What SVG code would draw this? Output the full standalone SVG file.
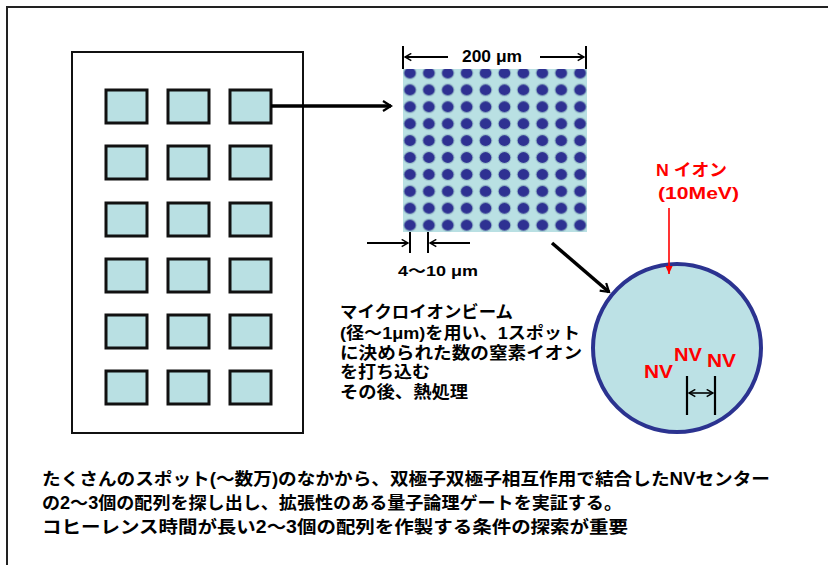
<svg xmlns="http://www.w3.org/2000/svg" width="828" height="565" viewBox="0 0 828 565">
<style>
.t{font-family:"Liberation Sans","Noto Sans CJK JP",sans-serif;font-weight:bold;fill:#000}
.r{fill:#ff0000}
.sq{fill:#b9e0e3;stroke:#111;stroke-width:3}
.ln{stroke:#000;fill:none}
</style>
<defs>
<marker id="chev" viewBox="0 0 12 12" refX="10" refY="6" markerWidth="12" markerHeight="12" markerUnits="userSpaceOnUse" orient="auto">
<path d="M2,1 L10,6 L2,11" fill="none" stroke="#000" stroke-width="2.2"/>
</marker>
<marker id="chevs" viewBox="0 0 10 10" refX="9" refY="5" markerWidth="9" markerHeight="9" markerUnits="userSpaceOnUse" orient="auto-start-reverse">
<path d="M2,1 L9,5 L2,9" fill="none" stroke="#000" stroke-width="1.6"/>
</marker>
<marker id="redh" viewBox="0 0 10 10" refX="9" refY="5" markerWidth="9" markerHeight="9" markerUnits="userSpaceOnUse" orient="auto">
<path d="M0,1 L9,5 L0,9 Z" fill="#ff0000"/>
</marker>
<pattern id="dots" patternUnits="userSpaceOnUse" x="400.55" y="64.55" width="18.9" height="16.9">
<circle cx="9.45" cy="8.45" r="6.8" fill="#9cc3cc"/>
<ellipse cx="9.45" cy="8.45" rx="5.8" ry="5.4" fill="#2e3192"/>
</pattern>
</defs>

<path d="M7,565 V7 H828" fill="none" stroke="#222" stroke-width="2"/>

<g id="chip">
<rect x="72" y="52" width="231" height="381" fill="#fff" stroke="#111" stroke-width="2"/>
<rect class="sq" x="106" y="90" width="41" height="33"/>
<rect class="sq" x="168" y="90" width="41" height="33"/>
<rect class="sq" x="230" y="90" width="41" height="33"/>
<rect class="sq" x="106" y="146" width="41" height="33"/>
<rect class="sq" x="168" y="146" width="41" height="33"/>
<rect class="sq" x="230" y="146" width="41" height="33"/>
<rect class="sq" x="106" y="203" width="41" height="33"/>
<rect class="sq" x="168" y="203" width="41" height="33"/>
<rect class="sq" x="230" y="203" width="41" height="33"/>
<rect class="sq" x="106" y="259" width="41" height="33"/>
<rect class="sq" x="168" y="259" width="41" height="33"/>
<rect class="sq" x="230" y="259" width="41" height="33"/>
<rect class="sq" x="106" y="315" width="41" height="33"/>
<rect class="sq" x="168" y="315" width="41" height="33"/>
<rect class="sq" x="230" y="315" width="41" height="33"/>
<rect class="sq" x="106" y="371" width="41" height="33"/>
<rect class="sq" x="168" y="371" width="41" height="33"/>
<rect class="sq" x="230" y="371" width="41" height="33"/>
</g>

<g id="spot-array">
<rect x="403" y="69" width="184" height="163" fill="#b9e0e3"/>
<rect x="403" y="69" width="184" height="163" fill="url(#dots)"/>
<line class="ln" x1="403" y1="46" x2="403" y2="69" stroke-width="2"/>
<line class="ln" x1="586" y1="46" x2="586" y2="69" stroke-width="2"/>
<line class="ln" x1="448" y1="57" x2="405" y2="57" stroke-width="2" marker-end="url(#chevs)"/>
<line class="ln" x1="540" y1="57" x2="584" y2="57" stroke-width="2" marker-end="url(#chevs)"/>
<text class="t" x="462" y="62" font-size="16" textLength="60" lengthAdjust="spacingAndGlyphs">200 μm</text>
<line class="ln" x1="410" y1="232" x2="410" y2="253" stroke-width="2"/>
<line class="ln" x1="428" y1="232" x2="428" y2="253" stroke-width="2"/>
<line class="ln" x1="367" y1="243" x2="408" y2="243" stroke-width="2" marker-end="url(#chevs)"/>
<line class="ln" x1="470" y1="243" x2="430" y2="243" stroke-width="2" marker-end="url(#chevs)"/>
<text class="t" x="398" y="276" font-size="15" textLength="80" lengthAdjust="spacingAndGlyphs">4～10 μm</text>
</g>

<g id="nv-spot">
<circle cx="677" cy="348" r="84" fill="#bce1e5" stroke="#2b3390" stroke-width="4"/>
<text class="t r" x="644" y="378" font-size="18" textLength="29" lengthAdjust="spacingAndGlyphs">NV</text>
<text class="t r" x="674" y="361" font-size="18" textLength="28" lengthAdjust="spacingAndGlyphs">NV</text>
<text class="t r" x="707" y="367" font-size="18" textLength="29" lengthAdjust="spacingAndGlyphs">NV</text>
<line class="ln" x1="687" y1="376" x2="687" y2="415" stroke="#222" stroke-width="2.2"/>
<line class="ln" x1="715" y1="376" x2="715" y2="415" stroke="#222" stroke-width="2.2"/>
<line class="ln" x1="689" y1="393" x2="713" y2="393" stroke-width="1.6" marker-start="url(#chevs)" marker-end="url(#chevs)"/>
</g>

<g id="n-ion">
<text class="t r" x="656" y="176" font-size="17" textLength="71" lengthAdjust="spacingAndGlyphs">N イオン</text>
<text class="t r" x="658" y="199" font-size="17" textLength="81" lengthAdjust="spacingAndGlyphs">(10MeV)</text>
</g>

<g id="connectors">
<line class="ln" x1="271" y1="106" x2="391" y2="106" stroke-width="3.5" marker-end="url(#chev)"/>
<line class="ln" x1="552" y1="243" x2="609" y2="292" stroke-width="3.5" marker-end="url(#chev)"/>
<line x1="669" y1="208" x2="669" y2="274" stroke="#ff0000" stroke-width="1.6" marker-end="url(#redh)"/>
</g>

<g id="desc">
<text class="t" font-size="16.5">
<tspan x="340" y="318" textLength="173" lengthAdjust="spacingAndGlyphs">マイクロイオンビーム</tspan>
<tspan x="340" y="339" textLength="240" lengthAdjust="spacingAndGlyphs">(径～1μm)を用い、1スポット</tspan>
<tspan x="340" y="359" textLength="242" lengthAdjust="spacingAndGlyphs">に決められた数の窒素イオン</tspan>
<tspan x="340" y="378" textLength="90" lengthAdjust="spacingAndGlyphs">を打ち込む</tspan>
<tspan x="340" y="398" textLength="128" lengthAdjust="spacingAndGlyphs">その後、熱処理</tspan>
</text>
</g>

<g id="summary">
<text class="t" font-size="17.5">
<tspan x="42" y="485" textLength="728" lengthAdjust="spacingAndGlyphs">たくさんのスポット(～数万)のなかから、双極子双極子相互作用で結合したNVセンター</tspan>
<tspan x="42" y="509" textLength="580" lengthAdjust="spacingAndGlyphs">の2～3個の配列を探し出し、拡張性のある量子論理ゲートを実証する。</tspan>
<tspan x="42" y="533" textLength="586" lengthAdjust="spacingAndGlyphs">コヒーレンス時間が長い2～3個の配列を作製する条件の探索が重要</tspan>
</text>
</g>
</svg>
